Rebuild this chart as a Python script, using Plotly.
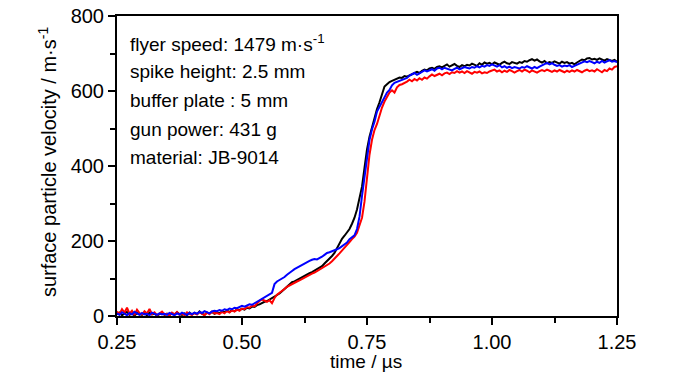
import numpy as np
import plotly.graph_objects as go

# time axis (µs), step 0.005 from 0.25 to 1.25
t_start, t_step, n_pts = 0.25, 0.005, 201
time_us = [round(t_start + t_step * i, 3) for i in range(n_pts)]

black = [
    4, 9, 2, 6, 11, 3, 7, 1, 8, 5,
    3, 7, 2, 9, 4, 6, 1, 5, 8, 3,
    6, 2, 8, 4, 10, 5, 3, 7, 2, 9,
    4, 8, 5, 12, 6, 3, 9, 7, 11, 6,
    9, 7, 12, 10, 14, 11, 15, 13, 17, 16,
    19, 17, 22, 20, 25, 24, 29, 31, 35, 38,
    40, 44, 46, 52, 56, 60, 66, 72, 80, 86,
    90, 92, 96, 100, 104, 106, 110, 114, 117, 121,
    124, 129, 133, 140, 146, 152, 160, 168, 180, 196,
    206, 214, 222, 232, 246, 262, 284, 312, 345, 395,
    444, 478, 505, 530, 552, 570, 590, 612, 618, 624,
    627, 630, 633, 636, 635, 640, 638, 642, 645, 648,
    651, 648, 654, 657, 655, 660, 662, 659, 664, 666,
    663, 668, 671, 665, 669, 672, 667, 664, 669, 666,
    670, 668, 673, 671, 667, 674, 670, 676, 673, 675,
    671, 676, 673, 670, 675, 678, 674, 672, 677, 675,
    673, 677, 675, 680, 678, 682, 685, 681, 684, 679,
    676, 680, 674, 677, 675, 679, 676, 673, 678, 675,
    677, 673, 675, 671, 676, 680, 684, 682, 687, 688,
    684, 686, 683, 687, 684, 681, 685, 682, 680, 683,
    678,
]

red = [
    12, 5, 18, 9, 22, 6, 14, 3, 17, 8,
    4, 13, 7, 19, 5, 10, 2, 8, 12, 4,
    6, 1, 9, 4, 11, 3, 7, 2, 10, 5,
    3, 8, 4, 10, 6, 2, 9, 5, 12, 7,
    8, 5, 11, 7, 13, 9, 15, 12, 17, 14,
    20, 18, 24, 22, 28, 26, 33, 40, 44, 41,
    38, 42, 34, 48, 57, 62, 66, 72, 78, 82,
    86, 88, 92, 95, 99, 102, 106, 110, 113, 116,
    120, 123, 127, 131, 136, 140, 146, 152, 160, 167,
    174, 182, 190, 197, 205, 212, 222, 240, 262, 305,
    370, 430, 470, 496, 512, 536, 556, 572, 584, 596,
    602, 596, 610, 616, 618, 621, 625, 630, 626, 632,
    628, 634, 630, 636, 633, 639, 644, 640, 643, 646,
    642, 647, 649, 645, 650, 648, 653, 649, 652, 648,
    653, 650, 646, 651, 649, 652, 647, 650, 648, 652,
    655, 657, 652, 655, 650, 654, 651, 656, 653, 649,
    653, 656, 652, 657, 654, 650, 655, 652, 649, 653,
    656, 653, 657, 654, 651, 655, 652, 656, 653, 650,
    654, 651, 655, 652, 656, 653, 650, 654, 657, 653,
    655, 652, 658, 654, 650, 656, 653, 660, 657, 664,
    666,
]

blue = [
    7, 3, 10, 5, 2, 8, 4, 11, 6, 3,
    8, 4, 6, 2, 9, 5, 3, 7, 4, 6,
    3, 8, 5, 2, 7, 4, 9, 6, 3, 8,
    5, 9, 6, 11, 8, 13, 10, 7, 12, 14,
    13, 16, 14, 18, 16, 20, 18, 22, 21, 24,
    27, 25, 29, 31, 30, 34, 37, 42, 45, 48,
    52, 56, 62, 85, 92, 96, 99, 104, 110, 116,
    120, 125, 129, 133, 137, 140, 143, 147, 150, 152,
    151, 154, 158, 163, 168, 170, 172, 174, 178, 181,
    186, 190, 196, 205, 210, 215, 232, 265, 320, 375,
    425, 470, 498, 518, 545, 558, 572, 584, 596, 603,
    615, 622, 625, 628, 630, 632, 635, 641, 645, 648,
    643, 647, 651, 655, 652, 656, 658, 654, 660, 662,
    658, 662, 660, 657, 655, 659, 662, 658, 661, 664,
    662, 660, 664, 662, 666, 663, 667, 665, 669, 667,
    671, 668, 665, 669, 663, 666, 662, 665, 661, 664,
    663, 660, 664, 662, 666, 663, 660, 664, 661, 665,
    668, 672, 675, 671, 674, 670, 667, 669, 665, 668,
    666, 669, 664, 667, 670, 673, 676, 679, 677, 680,
    677, 674, 678, 675, 680, 676, 679, 682, 678, 680,
    677,
]

x_ticks = [0.25, 0.50, 0.75, 1.00, 1.25]
x_ticklabels = ["0.25", "0.50", "0.75", "1.00", "1.25"]
y_ticks = [0, 200, 400, 600, 800]

info_lines = [
    "flyer speed: 1479 m·s<sup>-1</sup>",
    "spike height: 2.5 mm",
    "buffer plate : 5 mm",
    "gun power: 431 g",
    "material: JB-9014",
]
info_y = [729, 652, 575, 497, 423]

FONT = "Liberation Sans, Arial, sans-serif"

fig = go.Figure()
for vals, col in [(black, "black"), (red, "red"), (blue, "blue")]:
    fig.add_trace(go.Scatter(x=time_us, y=vals, mode="lines",
                             line=dict(color=col, width=2), showlegend=False,
                             hoverinfo="skip"))

for txt, yv in zip(info_lines, info_y):
    fig.add_annotation(x=0.272, y=yv, xref="x", yref="y", text=txt,
                       showarrow=False, xanchor="left", yanchor="middle",
                       font=dict(family=FONT, size=19, color="black"))

# axis titles
fig.add_annotation(x=0.498, y=-0.15, xref="paper", yref="paper", text="time / µs",
                   showarrow=False, xanchor="center", yanchor="middle",
                   font=dict(family=FONT, size=19, color="black"))
fig.add_annotation(x=-0.14, y=0.513, xref="paper", yref="paper",
                   text="surface particle velocity / m·s<sup>-1</sup>", textangle=-90,
                   showarrow=False, xanchor="center", yanchor="middle",
                   font=dict(family=FONT, size=20, color="black"))

axis_common = dict(showline=True, linecolor="black", linewidth=2, mirror=True,
                   ticks="outside", ticklen=7, tickwidth=2, tickcolor="black",
                   showgrid=False, zeroline=False,
                   tickfont=dict(family=FONT, size=20, color="black"))

fig.update_xaxes(range=[0.25, 1.25], tickvals=x_ticks, ticktext=x_ticklabels,
                 minor=dict(ticks="outside", ticklen=5, tickwidth=2, tickcolor="black",
                            dtick=0.125, tick0=0.25, showgrid=False),
                 **axis_common)
fig.update_yaxes(range=[0, 800], tickvals=y_ticks,
                 minor=dict(ticks="outside", ticklen=5, tickwidth=2, tickcolor="black",
                            dtick=100, tick0=0, showgrid=False),
                 **axis_common)

fig.update_layout(width=700, height=374,
                  margin=dict(l=117, r=83, t=16, b=58, autoexpand=False),
                  paper_bgcolor="white", plot_bgcolor="white")

fig.write_html("out.html", config={"displayModeBar": False},
               post_script="document.body.style.margin='0';")
